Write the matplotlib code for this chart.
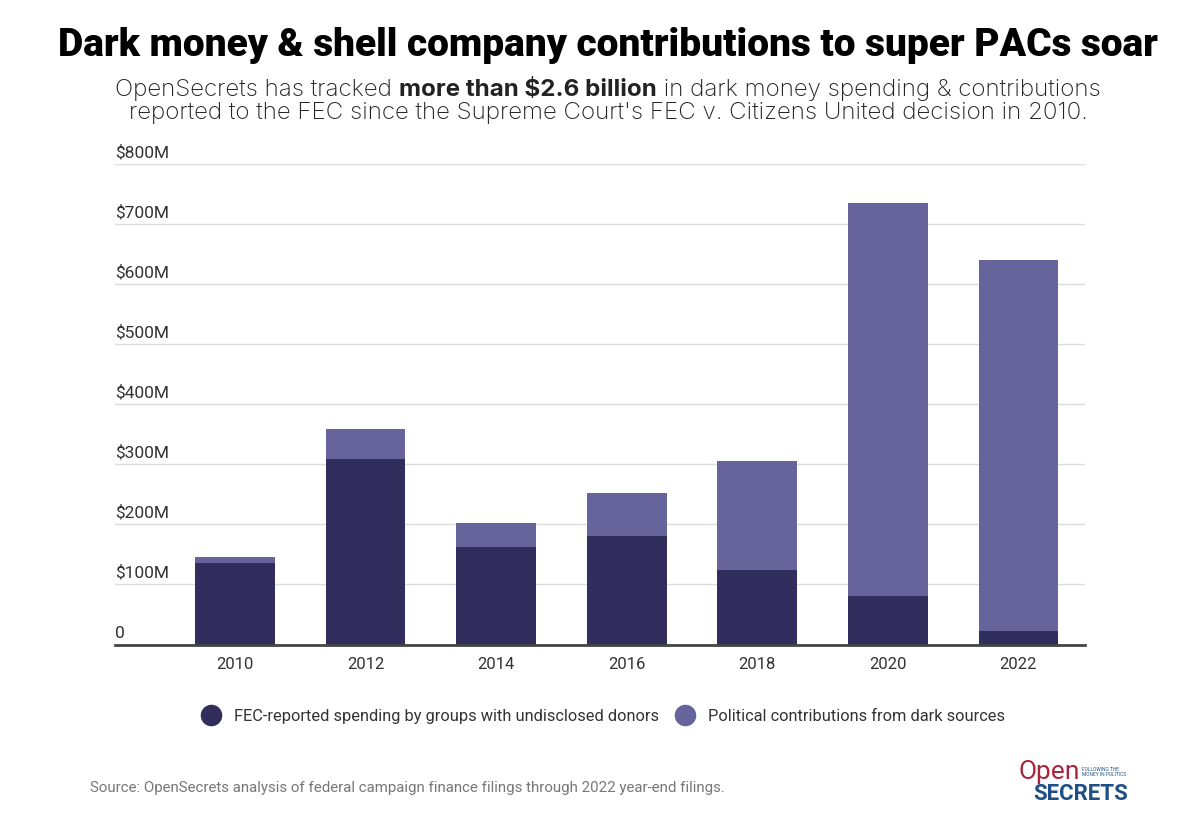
import matplotlib.pyplot as plt
from matplotlib.lines import Line2D
import numpy as np

years = ['2010', '2012', '2014', '2016', '2018', '2020', '2022']
# millions of dollars
fec_spending = [136, 309, 163, 181, 124, 81, 23]
dark_contrib = [9, 50, 40, 72, 181, 654, 617]

yticks = [0, 100, 200, 300, 400, 500, 600, 700, 800]
ytick_labels = ['0', '$100M', '$200M', '$300M', '$400M', '$500M', '$600M', '$700M', '$800M']

dark_color = '#312d5c'
light_color = '#67639b'

fig = plt.figure(figsize=(12, 8.38), dpi=100)
fig.patch.set_facecolor('white')
renderer = fig.canvas.get_renderer()

ax = fig.add_axes([115 / 1200, 1 - 644.5 / 838, 970 / 1200, (644.5 - 164) / 838])
x = np.arange(len(years))
ax.bar(x, fec_spending, width=0.61, color=dark_color, zorder=3)
ax.bar(x, dark_contrib, width=0.61, bottom=fec_spending, color=light_color, zorder=3)

ax.set_xlim(-0.92, 6.51)
ax.set_ylim(0, 800)
ax.set_yticks(yticks)
ax.set_yticklabels([])
ax.tick_params(axis='y', length=0)
ax.set_xticks(x)
ax.set_xticklabels(years, fontsize=12, color='#333333', family='Roboto')
ax.tick_params(axis='x', length=0, pad=9)
ax.grid(axis='y', color='#dcdcdc', linewidth=1, zorder=0)
for s in ['top', 'right', 'left']:
    ax.spines[s].set_visible(False)
ax.spines['bottom'].set_color('#444444')
ax.spines['bottom'].set_linewidth(2)
ax.spines['bottom'].set_zorder(4)

# y labels sit just above gridlines, left aligned
for v, lab in zip(yticks, ytick_labels):
    ax.text(0, v + 6, lab, transform=ax.get_yaxis_transform(), ha='left', va='bottom',
            fontsize=12.5, color='#333333', family='Roboto')

# title, scaled to span the same width as the original
xc = 608 / 1200
title = fig.text(xc, 1 - 46 / 838, 'Dark money & shell company contributions to super PACs soar',
                 ha='center', va='center', fontsize=30, fontweight='black', family='Roboto',
                 color='black')
tw = title.get_window_extent(renderer).width
title.set_fontsize(30 * 1100 / tw)

# subtitle with bold segment
parts = [('OpenSecrets has tracked ', 'light'), ('more than $2.6 billion', 'bold'),
         (' in dark money spending & contributions', 'light')]
y1 = 1 - 90 / 838
texts = []
for s, w in parts:
    t = fig.text(0, y1, s, ha='left', va='center', fontsize=17.4, fontweight=w,
                 family='Inter', color='#222222')
    texts.append(t)
widths = [t.get_window_extent(renderer).width / 1200 for t in texts]
xpos = xc - sum(widths) / 2
for t, w in zip(texts, widths):
    t.set_x(xpos)
    xpos += w
fig.text(xc, 1 - 113 / 838,
         "reported to the FEC since the Supreme Court's FEC v. Citizens United decision in 2010.",
         ha='center', va='center', fontsize=17.4, fontweight='light', family='Inter', color='#222222')

# legend
handles = [Line2D([], [], marker='o', linestyle='none', markersize=14.5, color=dark_color),
           Line2D([], [], marker='o', linestyle='none', markersize=14.5, color=light_color)]
labels = ['FEC-reported spending by groups with undisclosed donors',
          'Political contributions from dark sources']
fig.legend(handles, labels, loc='center', bbox_to_anchor=(0.5, 1 - 716 / 838), ncol=2,
           frameon=False, prop={'family': 'Roboto', 'size': 11.8}, handletextpad=0.4,
           columnspacing=0.6, labelcolor='#333333')

# source
fig.text(90 / 1200, 1 - 788 / 838,
         'Source: OpenSecrets analysis of federal campaign finance filings through 2022 year-end filings.',
         ha='left', va='center', fontsize=10.85, color='#777777', family='Roboto')

# logo
fig.text(1018 / 1200, 1 - 772 / 838, 'Open', ha='left', va='center', fontsize=19,
         color='#a8253b', family='Roboto')
fig.text(1082 / 1200, 1 - 772 / 838, 'FOLLOWING THE\nMONEY IN POLITICS', ha='left', va='center',
         fontsize=3.5, color='#1f4f86', family='Roboto', linespacing=1.1)
fig.text(1033 / 1200, 1 - 794 / 838, 'SECRETS', ha='left', va='center', fontsize=16,
         fontweight='bold', color='#1f4f86', family='Roboto')

fig.savefig('out.png', dpi=100)
